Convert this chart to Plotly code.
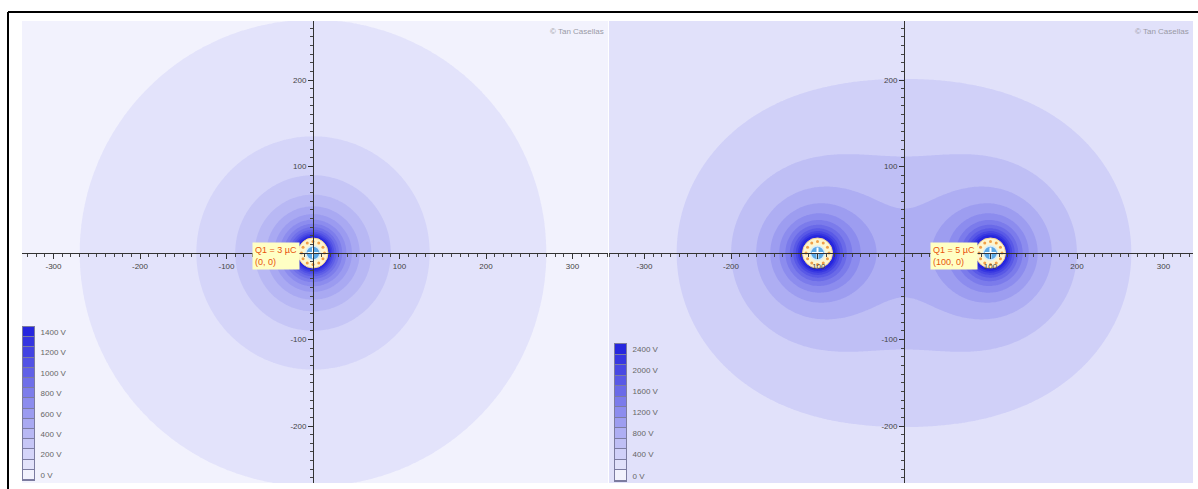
import numpy as np
import plotly.graph_objects as go

# ---- physical data ----
K_COULOMB = 8.99e9

# left panel: a single point charge
left_charges_uc = [3]
left_charges_x = [0]
left_charges_y = [0]
left_levels = list(range(0, 1500, 100))      # 0 V .. 1400 V

# right panel: two equal point charges
right_charges_uc = [5, 5]
right_charges_x = [-100, 100]
right_charges_y = [0, 0]
right_levels = list(range(0, 2600, 200))     # 0 V .. 2400 V

axis_tick_vals = [-300, -200, -100, 100, 200, 300]
axis_tick_text = ["-300", "-200", "-100", "100", "200", "300"]

left_label = "Q1 = 3 µC<br>(0, 0)"
right_label = "Q1 = 5 µC<br>(100, 0)"
credit = "© Tan Casellas"

# ---- layout geometry (pixels) ----
W, H = 1198, 489
PX_PER_UNIT = 0.865
TOP_PX, BOTTOM_PX = 21, 483
LEFT_PANEL = (22, 608, 313)      # left edge, right edge, origin x
RIGHT_PANEL = (609, 1193, 904)
ORIGIN_Y_PX = 253

C_LOW = (242, 242, 253)
C_HIGH = (38, 38, 222)


def rgb(c):
    return "rgb(%d,%d,%d)" % c


SCALE = [[0, rgb(C_LOW)], [1, rgb(C_HIGH)]]


def potential(X, Y, qs, xs, ys):
    V = np.zeros_like(X)
    for q, x0, y0 in zip(qs, xs, ys):
        r = np.maximum(np.hypot(X - x0, Y - y0), 1.0)
        V += K_COULOMB * q * 1e-6 / r
    return np.round(np.minimum(V, 6000), 1)


def px_to_paper_x(px):
    return px / W


def px_to_paper_y(py):
    return (H - py) / H


ymax = (ORIGIN_Y_PX - TOP_PX) / PX_PER_UNIT
ymin = (ORIGIN_Y_PX - BOTTOM_PX) / PX_PER_UNIT
ydom = [px_to_paper_y(BOTTOM_PX), px_to_paper_y(TOP_PX)]

fig = go.Figure()

panels = [
    dict(geom=LEFT_PANEL, q=left_charges_uc, xs=left_charges_x, ys=left_charges_y,
         levels=left_levels, label=left_label, label_idx=0,
         legend_x=(23, 34), legend_y=(327, 480)),
    dict(geom=RIGHT_PANEL, q=right_charges_uc, xs=right_charges_x, ys=right_charges_y,
         levels=right_levels, label=right_label, label_idx=1,
         legend_x=(615, 626), legend_y=(344, 481)),
]

annotations = []
layout_axes = {}

for i, p in enumerate(panels):
    lpx, rpx, opx = p["geom"]
    xmin = (lpx - opx) / PX_PER_UNIT
    xmax = (rpx - opx) / PX_PER_UNIT
    xdom = [px_to_paper_x(lpx), px_to_paper_x(rpx)]
    ax_n = 2 * i + 1
    xa, ya = "x%d" % ax_n if ax_n > 1 else "x", "y%d" % ax_n if ax_n > 1 else "y"
    xkey = "xaxis%d" % ax_n if ax_n > 1 else "xaxis"
    ykey = "yaxis%d" % ax_n if ax_n > 1 else "yaxis"

    gx = np.linspace(xmin, xmax, 360)
    gy = np.linspace(ymin, ymax, 290)
    X, Y = np.meshgrid(gx, gy)
    Z = potential(X, Y, p["q"], p["xs"], p["ys"])
    step = p["levels"][1] - p["levels"][0]

    fig.add_trace(go.Contour(
        x=gx, y=gy, z=Z, xaxis=xa, yaxis=ya,
        autocontour=False,
        contours=dict(start=p["levels"][1], end=p["levels"][-1], size=step,
                      coloring="fill", showlines=False),
        colorscale=SCALE, showscale=False, line=dict(width=0),
        line_smoothing=1, hoverinfo="skip",
    ))

    # charge glyphs
    for q, cx, cy in zip(p["q"], p["xs"], p["ys"]):
        fig.add_trace(go.Scatter(
            x=[cx], y=[cy], xaxis=xa, yaxis=ya, mode="markers",
            marker=dict(size=30, color="#fdf5cf", line=dict(color="#f6d894", width=1)),
            hoverinfo="skip", showlegend=False))
        ang = np.linspace(0, 2 * np.pi, 12, endpoint=False)
        rr = 11.5 / PX_PER_UNIT
        fig.add_trace(go.Scatter(
            x=cx + rr * np.cos(ang), y=cy + rr * np.sin(ang), xaxis=xa, yaxis=ya,
            mode="markers", marker=dict(size=3, color="#f0a048"),
            hoverinfo="skip", showlegend=False))
        fig.add_trace(go.Scatter(
            x=[cx], y=[cy], xaxis=xa, yaxis=ya, mode="markers",
            marker=dict(size=14, color="#5aa8e6", line=dict(color="#d8ecfa", width=1.5)),
            hoverinfo="skip", showlegend=False))
        fig.add_trace(go.Scatter(
            x=[cx], y=[cy], xaxis=xa, yaxis=ya, mode="markers",
            marker=dict(size=8, symbol="cross-thin", line=dict(color="white", width=2)),
            hoverinfo="skip", showlegend=False))

    # charge label
    li = p["label_idx"]
    annotations.append(dict(
        x=p["xs"][li], y=p["ys"][li], xref=xa, yref=ya, text=p["label"],
        showarrow=False, xanchor="right", yanchor="middle", xshift=-13, yshift=-3,
        align="left", bgcolor="#ffffc4", borderpad=2,
        font=dict(family="Liberation Sans", size=9, color="#e8540c")))

    # credit line
    annotations.append(dict(
        x=px_to_paper_x(rpx - 2), y=px_to_paper_y(32), xref="paper", yref="paper",
        text=credit, showarrow=False, xanchor="right", yanchor="middle",
        font=dict(family="Liberation Sans", size=8, color="#9a9aa6")))

    # axes crossing at the origin
    ypos = ydom[0] + (0 - ymin) / (ymax - ymin) * (ydom[1] - ydom[0])
    xpos = xdom[0] + (0 - xmin) / (xmax - xmin) * (xdom[1] - xdom[0])
    tickfont = dict(family="Liberation Sans", size=8, color="#444")
    layout_axes[xkey] = dict(
        domain=xdom, range=[xmin, xmax], anchor="free", position=ypos,
        showgrid=False, zeroline=False, showline=True, linecolor="#333", linewidth=1,
        tickmode="array", tickvals=axis_tick_vals, ticktext=axis_tick_text,
        ticks="outside", ticklen=5, tickcolor="#333", tickfont=tickfont,
        minor=dict(dtick=10, ticks="outside", ticklen=3, tickcolor="#444", showgrid=False),
    )
    layout_axes[ykey] = dict(
        domain=ydom, range=[ymin, ymax], anchor="free", position=xpos,
        showgrid=False, zeroline=False, showline=True, linecolor="#333", linewidth=1,
        tickmode="array", tickvals=axis_tick_vals[1:-1], ticktext=axis_tick_text[1:-1],
        ticks="outside", ticklen=5, tickcolor="#333", tickfont=tickfont,
        minor=dict(dtick=10, ticks="outside", ticklen=3, tickcolor="#444", showgrid=False),
    )

    # level legend: one outlined square per potential band
    lg_n = 2 * i + 2
    lxkey, lykey = "xaxis%d" % lg_n, "yaxis%d" % lg_n
    lev = p["levels"]
    nb = len(lev) - 1
    fig.add_trace(go.Heatmap(
        x=[0], y=lev, z=[[k] for k in range(len(lev))],
        xaxis="x%d" % lg_n, yaxis="y%d" % lg_n,
        colorscale=SCALE, zmin=0, zmax=nb, showscale=False, ygap=1, xgap=0,
        hoverinfo="skip"))
    layout_axes[lxkey] = dict(
        domain=[px_to_paper_x(p["legend_x"][0]), px_to_paper_x(p["legend_x"][1])],
        range=[-0.5, 0.5], anchor="y%d" % lg_n, showticklabels=False, ticks="",
        showgrid=False, zeroline=False, showline=True, mirror=True,
        linecolor="#7c7ca0", linewidth=1)
    layout_axes[lykey] = dict(
        domain=[px_to_paper_y(p["legend_y"][1]), px_to_paper_y(p["legend_y"][0])],
        range=[lev[0] - step / 2, lev[-1] + step / 2], anchor="x%d" % lg_n,
        side="right", tickmode="array", tickvals=lev[::2],
        ticktext=["%d V" % v for v in lev[::2]], ticks="", showgrid=False,
        zeroline=False, showline=True, mirror=True, linecolor="#7c7ca0", linewidth=1,
        ticklabelstandoff=4,
        tickfont=dict(family="Liberation Sans", size=8, color="#666"))

# frame lines along the top and left edges
shapes = [
    dict(type="line", xref="paper", yref="paper", x0=8 / W, x1=1, y0=px_to_paper_y(12),
         y1=px_to_paper_y(12), line=dict(color="black", width=2)),
    dict(type="line", xref="paper", yref="paper", x0=8 / W, x1=8 / W, y0=0,
         y1=px_to_paper_y(12), line=dict(color="black", width=2)),
]

fig.update_layout(
    width=W, height=H, margin=dict(l=0, r=0, t=0, b=0),
    paper_bgcolor="white", plot_bgcolor="#7c7ca0",
    showlegend=False, annotations=annotations, shapes=shapes,
    **layout_axes,
)

fig.write_html("out.html")
